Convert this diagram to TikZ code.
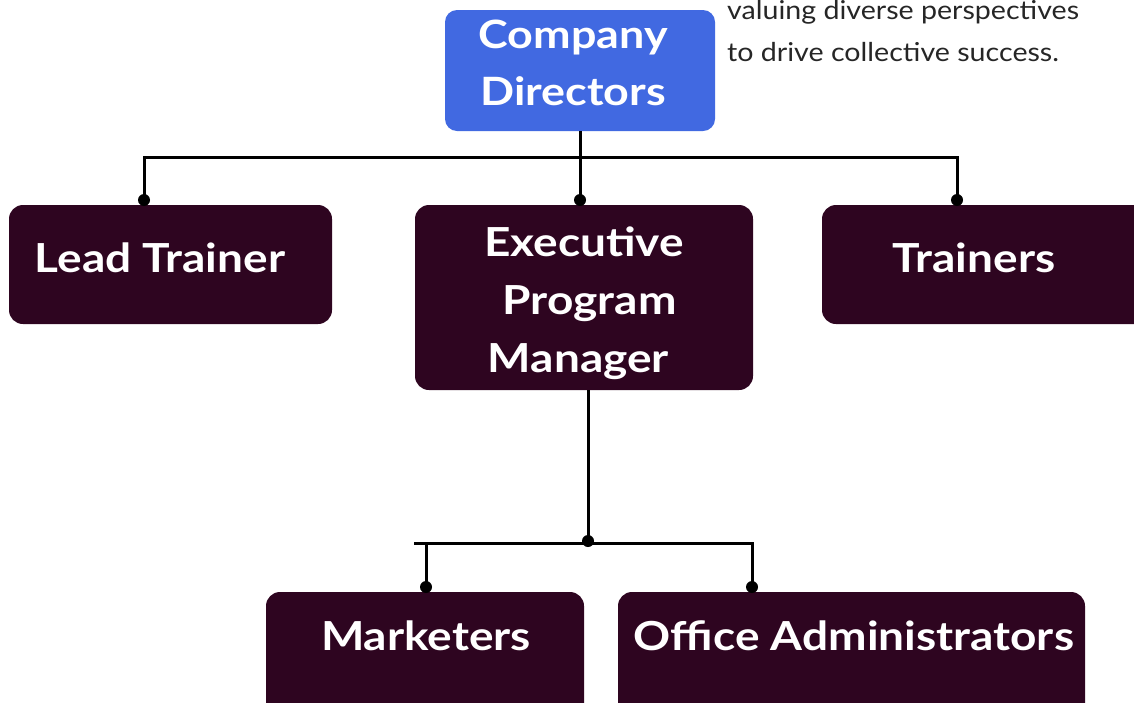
\documentclass[tikz,border=0pt]{standalone}
\usepackage{fontspec}
\setmainfont{Lato}
\newfontfamily\widefont{Lato}[FakeStretch=1.15]
\newfontfamily\notefont{Lato}[FakeStretch=1.1]
\definecolor{boxdark}{HTML}{2E0520}
\definecolor{boxblue}{HTML}{4169E1}
\tikzset{
  x=1pt, y=-1pt,
  orgbox/.style={fill=boxdark, draw=none, rounded corners=14pt, inner sep=0pt},
  topbox/.style={fill=boxblue, draw=none, rounded corners=12pt, inner sep=0pt},
  lbl/.style={text=white, font=\widefont\bfseries\fontsize{40}{58}\selectfont, align=center, inner sep=0pt},
  conn/.style={line width=3pt, black},
  dot/.style={circle, fill=black, inner sep=0pt, minimum size=12pt}
}
\begin{document}
\begin{tikzpicture}
\useasboundingbox (0,0) rectangle (1134,702);
\clip (0,0) rectangle (1134,702);
% boxes
\node[topbox, minimum width=270pt, minimum height=121pt] (cd) at (580,70.5) {};
\node[orgbox, minimum width=323pt, minimum height=119pt] (lt) at (170.5,264.5) {};
\node[orgbox, minimum width=338pt, minimum height=185pt] (epm) at (584,297.5) {};
\node[orgbox, minimum width=340pt, minimum height=119pt] (tr) at (992,264.5) {};
\node[orgbox, minimum width=318pt, minimum height=140pt] (mk) at (425,662) {};
\node[orgbox, minimum width=467pt, minimum height=140pt] (oa) at (851.5,662) {};
% labels
\node[lbl, font=\widefont\bfseries\fontsize{39}{57}\selectfont] (cdt) at (573,63) {Company\\Directors};
\node[lbl] (ltt) at (160,258) {Lead Trainer};
\node[lbl] (epmt) at (584,303) {Executive\\\ Program\\Manager\ \ };
\node[lbl] (trt) at (974,258) {Trainers};
\node[lbl] (mkt) at (426,636) {Marketers};
\node[lbl] (oat) at (854,636) {Office Administrators};
\node[anchor=west, font=\notefont\fontsize{26}{42}\selectfont, text=black!85, align=left, inner sep=0pt] (note) at (727,31) {valuing diverse perspectives\\to drive collective success.};
% connectors top
\coordinate (j1) at (580,157);
\coordinate (jl) at (144,157);
\coordinate (jr) at (957,157);
\node[dot] (d1) at (144,200) {};
\node[dot] (d2) at (580,200) {};
\node[dot] (d3) at (957,200) {};
\draw[conn] (cd.south) -- (j1);
\draw[conn] (d1.center) -- (jl) -- (jr) -- (d3.center);
\draw[conn] (j1) -- (d2.center);
% connectors bottom
\node[dot] (d4) at (588,541) {};
\coordinate (bl) at (414,543);
\coordinate (bl2) at (426,543);
\coordinate (br) at (752,543);
\node[dot] (d5) at (426,587) {};
\node[dot] (d6) at (752,587) {};
\draw[conn] (epm.south -| d4) -- (d4.center);
\draw[conn] (bl) -- (br) -- (d6.center);
\draw[conn] (bl2) -- (d5.center);
\end{tikzpicture}
\end{document}
